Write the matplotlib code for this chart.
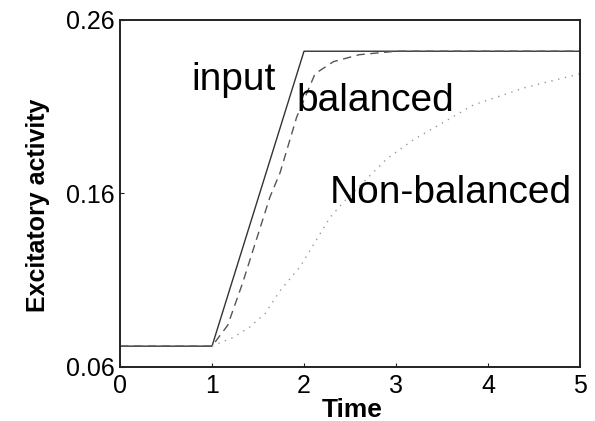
import numpy as np
import matplotlib.pyplot as plt

plt.rcParams['font.family'] = ['Liberation Sans', 'DejaVu Sans']

# values
t_input = [0, 1, 2, 5]
v_input = [0.072, 0.072, 0.242, 0.242]

t_bal = [0, 1, 1.17, 1.33, 1.63, 1.74, 1.92, 2.12, 2.32, 2.6, 3.0, 5]
v_bal = [0.072, 0.072, 0.084, 0.108, 0.158, 0.172, 0.204, 0.229, 0.236, 0.240, 0.242, 0.242]

t_non = [1, 1.09, 1.23, 1.41, 1.58, 1.74, 1.96, 2.28, 2.42, 2.9, 3.19, 3.84, 4.4, 5]
v_non = [0.072, 0.074, 0.077, 0.083, 0.091, 0.104, 0.118, 0.146, 0.1545, 0.180, 0.191, 0.211, 0.221, 0.229]

x_ticks = [0, 1, 2, 3, 4, 5]
y_ticks = [0.06, 0.16, 0.26]

fig = plt.figure(figsize=(5.95, 4.21), dpi=100)
ax = fig.add_axes([0.2017, 0.1283, 0.7731, 0.8242])

ax.plot(t_input, v_input, color='#333333', lw=1.0, ls='-')
ax.plot(t_bal, v_bal, color='#555555', lw=1.0, ls=(0, (6, 4)))
ax.plot(t_non, v_non, color='#999999', lw=1.0, ls=(0, (1, 4)))

ax.set_xlim(0, 5)
ax.set_ylim(0.06, 0.26)
ax.set_xticks(x_ticks)
ax.set_xticklabels([str(v) for v in x_ticks])
ax.set_yticks(y_ticks)
ax.set_yticklabels(['0.06', '0.16', '0.26'])
ax.tick_params(direction='in', length=3, labelsize=18, color='#222222')
ax.tick_params(axis='x', pad=5)
ax.tick_params(axis='y', pad=4)
for s in ax.spines.values():
    s.set_linewidth(1.4)
    s.set_color('#222222')

ax.set_xlabel('Time', fontsize=19, fontweight='bold')
ax.xaxis.set_label_coords(0.505, -0.09)
ax.set_ylabel('Excitatory activity', fontsize=18, fontweight='bold')
ax.yaxis.set_label_coords(-0.152, 0.465)

ax.text(0.78, 0.2195, 'input', fontsize=28, ha='left', va='baseline')
ax.text(1.92, 0.2075, 'balanced', fontsize=28, ha='left', va='baseline')
ax.text(2.28, 0.1545, 'Non-balanced', fontsize=28, ha='left', va='baseline')

fig.savefig('out.png', dpi=100)
